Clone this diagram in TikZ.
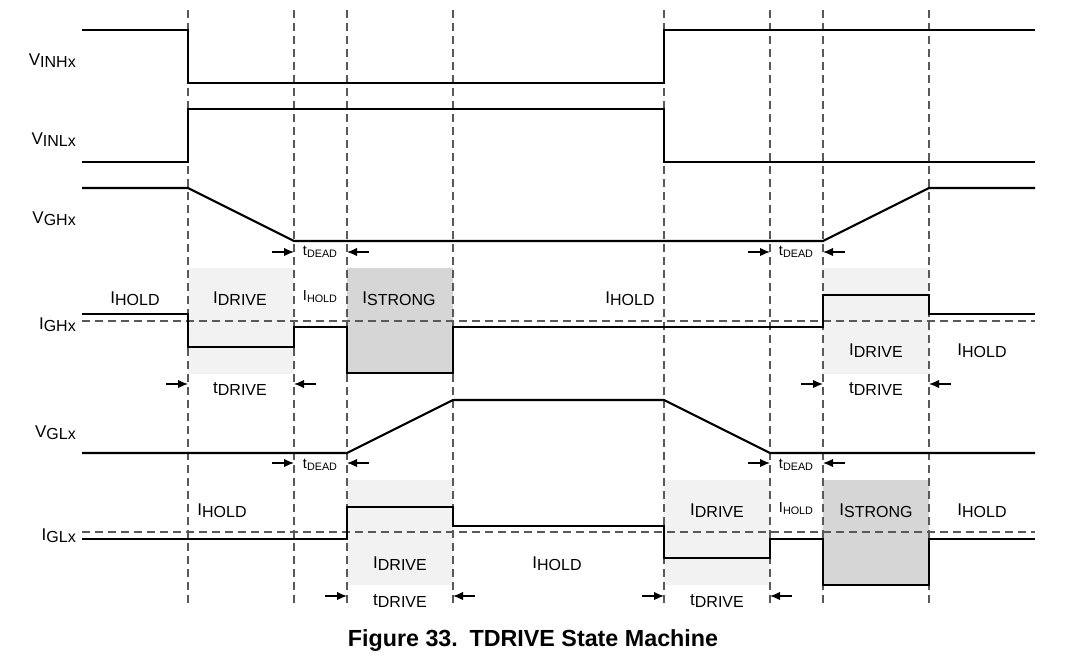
\documentclass[tikz,border=0pt]{standalone}
\usepackage{fontspec}
\setmainfont{Liberation Sans}
\usetikzlibrary{arrows.meta}
\definecolor{lightsh}{HTML}{F2F2F2}
\definecolor{darksh}{HTML}{D6D6D6}
\newcommand{\Sb}[2]{{\fontsize{17}{17}\selectfont #1}\raisebox{-2.5pt}{\fontsize{16}{16}\selectfont #2}}
\newcommand{\Ss}[2]{{\fontsize{14.5}{14.5}\selectfont #1}\raisebox{-2pt}{\fontsize{10.8}{10.8}\selectfont #2}}
\begin{document}
\begin{tikzpicture}[x=1pt,y=-1pt,
  sig/.style={line width=2.2pt, line join=miter},
  grid/.style={draw=black!65, line width=1.3pt, dash pattern=on 8pt off 5pt},
  lab/.style={inner sep=0pt, anchor=base, text=black},
  side/.style={inner sep=0pt, anchor=base east, text=black},
  tarr/.style={line width=1.3pt, -{Latex[length=10pt,width=8.5pt]}}]
\useasboundingbox (0,0) rectangle (1066,657);
% shaded intervals
\fill[lightsh] (188,268) rectangle (294,374);
\fill[darksh]  (347,268) rectangle (453,373);
\fill[lightsh] (823,268) rectangle (929,374);
\fill[lightsh] (347,480) rectangle (453,585);
\fill[lightsh] (664,480) rectangle (770,585);
\fill[darksh]  (823,480) rectangle (929,585);
% vertical dashed time markers
\foreach \x/\n in {188/a,294/b,347/c,453/d,664/e,770/f,823/g,929/h}{
  \coordinate (top\n) at (\x,10);
  \coordinate (bot\n) at (\x,605);
  \draw[grid] (top\n) -- (bot\n);
}
% horizontal dashed reference lines
\coordinate (rh1) at (82,321); \coordinate (rh2) at (1035,321);
\coordinate (rl1) at (82,532); \coordinate (rl2) at (1035,532);
\draw[grid] (rh1) -- (rh2);
\draw[grid] (rl1) -- (rl2);
% signals
\draw[sig] (82,30)--(188,30)--(188,83)--(664,83)--(664,30)--(1035,30);
\draw[sig] (82,162)--(188,162)--(188,109)--(664,109)--(664,162)--(1035,162);
\draw[sig] (82,188)--(188,188)--(294,241)--(823,241)--(929,188)--(1035,188);
\draw[sig] (82,314)--(188,314)--(188,347)--(294,347)--(294,327)--(347,327)--(347,373)--(453,373)--(453,327)--(823,327)--(823,295)--(929,295)--(929,314)--(1035,314);
\draw[sig] (82,453)--(347,453)--(453,400)--(664,400)--(770,453)--(1035,453);
\draw[sig] (82,539)--(347,539)--(347,507)--(453,507)--(453,526)--(664,526)--(664,558)--(770,558)--(770,539)--(823,539)--(823,585)--(929,585)--(929,539)--(1035,539);
% side labels
\node[side] (lvinh) at (76,65)  {\Sb{V}{INHx}};
\node[side] (lvinl) at (76,144) {\Sb{V}{INLx}};
\node[side] (lvgh)  at (76,223) {\Sb{V}{GHx}};
\node[side] (ligh)  at (76,329) {\Sb{I}{GHx}};
\node[side] (lvgl)  at (76,437) {\Sb{V}{GLx}};
\node[side] (ligl)  at (76,540) {\Sb{I}{GLx}};
% IGHx interval labels
\node[lab] (h1) at (135,303) {\Sb{I}{HOLD}};
\node[lab] (h2) at (240,303) {\Sb{I}{DRIVE}};
\node[lab] (h3) at (320,300) {\Ss{I}{HOLD}};
\node[lab] (h4) at (399,303) {\Sb{I}{STRONG}};
\node[lab] (h5) at (630,303) {\Sb{I}{HOLD}};
\node[lab] (h6) at (876,355) {\Sb{I}{DRIVE}};
\node[lab] (h7) at (982,355) {\Sb{I}{HOLD}};
% IGLx interval labels
\node[lab] (g1) at (222,515) {\Sb{I}{HOLD}};
\node[lab] (g2) at (400,568) {\Sb{I}{DRIVE}};
\node[lab] (g3) at (557,568) {\Sb{I}{HOLD}};
\node[lab] (g4) at (717,515) {\Sb{I}{DRIVE}};
\node[lab] (g5) at (796,512) {\Ss{I}{HOLD}};
\node[lab] (g6) at (876,515) {\Sb{I}{STRONG}};
\node[lab] (g7) at (982,515) {\Sb{I}{HOLD}};
% timing labels
\node[lab] (d1) at (320,255) {\Ss{t}{DEAD}};
\node[lab] (d2) at (796,255) {\Ss{t}{DEAD}};
\node[lab] (d3) at (320,468) {\Ss{t}{DEAD}};
\node[lab] (d4) at (796,468) {\Ss{t}{DEAD}};
\node[lab] (r1) at (240,393) {\Sb{t}{DRIVE}};
\node[lab] (r2) at (876,393) {\Sb{t}{DRIVE}};
\node[lab] (r3) at (400,605) {\Sb{t}{DRIVE}};
\node[lab] (r4) at (717,605) {\Sb{t}{DRIVE}};
% timing arrows
\foreach \y/\l/\r in {252/294/347, 252/770/823, 463/294/347, 463/770/823, 384/188/294, 384/823/929, 596/347/453, 596/664/770}{
  \coordinate (al) at (\l-22,\y); \coordinate (ale) at (\l,\y);
  \coordinate (ar) at (\r+22,\y); \coordinate (are) at (\r,\y);
  \draw[tarr] (al) -- (ale);
  \draw[tarr] (ar) -- (are);
}
% caption
\node[lab] (cap) at (533,646) {\fontsize{23.3}{23.3}\selectfont\bfseries Figure 33.\hspace{0.5em}TDRIVE State Machine};
\end{tikzpicture}
\end{document}
